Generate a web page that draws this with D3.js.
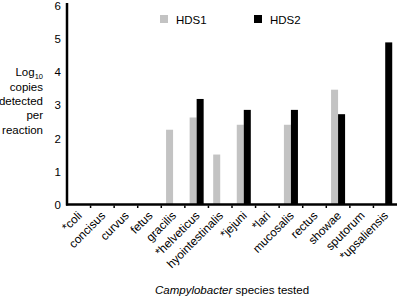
<!DOCTYPE html>
<html>
<head>
<meta charset="utf-8">
<style>
  body { margin: 0; background: #fff; }
  text { font-family: "Liberation Sans", Arial, sans-serif; fill: #000; }
</style>
</head>
<body>
<div id="chart"></div>
<script src="https://d3js.org/d3.v7.min.js"></script>
<script>
var species = ["*coli", "concisus", "curvus", "fetus", "gracilis", "*helveticus",
  "hyointestinalis", "*jejuni", "*lari", "mucosalis", "rectus", "showae",
  "sputorum", "*upsaliensis"];
var seriesNames = ["HDS1", "HDS2"];
var hds1 = [0, 0, 0, 0, 2.26, 2.63, 1.51, 2.41, 0, 2.41, 0, 3.47, 0, 0];
var hds2 = [0, 0, 0, 0, 0, 3.19, 0, 2.86, 0, 2.86, 0, 2.73, 0, 4.9];
var yTicks = [0, 1, 2, 3, 4, 5, 6];
var colors = ["#c3c3c3", "#000000"];

var W = 400, H = 299;
var margin = {left: 67, right: 3, top: 6, bottom: 94};

var svg = d3.select("#chart").append("svg")
  .attr("width", W).attr("height", H);

var x = d3.scaleBand().domain(species).range([margin.left, W - margin.right]).padding(0);
var x1 = d3.scaleBand().domain(seriesNames).range([0, x.bandwidth()]).paddingOuter(0.68).paddingInner(0);
var y = d3.scaleLinear().domain([0, 6]).range([H - margin.bottom - 0.5, margin.top]);

var rows = species.map(function(s, i) { return {name: s, vals: [hds1[i], hds2[i]]}; });

// bars
var grp = svg.append("g").selectAll("g").data(rows).enter().append("g")
  .attr("transform", function(d) { return "translate(" + x(d.name) + ",0)"; });
grp.selectAll("rect")
  .data(function(d) { return d.vals.map(function(v, j) { return {k: seriesNames[j], v: v, j: j}; }).filter(function(e) { return e.v > 0; }); })
  .enter().append("rect")
  .attr("x", function(d) { return x1(d.k); })
  .attr("width", x1.bandwidth())
  .attr("y", function(d) { return y(d.v); })
  .attr("height", function(d) { return y(0) - y(d.v); })
  .attr("fill", function(d) { return colors[d.j]; });

// y axis (no tick marks)
var yAxis = svg.append("g").attr("transform", "translate(" + margin.left + ",0)")
  .call(d3.axisLeft(y).tickValues(yTicks).tickFormat(d3.format("d")).tickSize(0).tickPadding(6));
yAxis.select(".domain").attr("stroke-width", 2.5).attr("d", "M0," + (y(0) + 1) + "V" + (margin.top - 3));
yAxis.selectAll(".tick text").attr("font-size", 11.5).style("font-family", "Liberation Sans, Arial, sans-serif");

// x axis
var xAxis = svg.append("g").attr("transform", "translate(0," + y(0) + ")")
  .call(d3.axisBottom(x).tickSize(0).tickPadding(4));
xAxis.select(".domain").attr("stroke-width", 2.5).attr("d", "M" + (margin.left - 1) + ",0H" + (W - margin.right));
xAxis.selectAll(".tick text")
  .attr("font-size", 11.8)
  .style("font-family", "Liberation Sans, Arial, sans-serif")
  .attr("text-anchor", "end")
  .attr("dy", null)
  .attr("transform", "translate(1,9) rotate(-45)");
// boundary ticks
xAxis.append("g").selectAll("line").data(species.slice(1)).enter().append("line")
  .attr("x1", function(d) { return x(d); }).attr("x2", function(d) { return x(d); })
  .attr("y1", 1).attr("y2", 3.5).attr("stroke", "#000").attr("stroke-width", 1.5);

// y title
var yt = svg.append("text").attr("text-anchor", "end").attr("font-size", 11.5);
var t0 = yt.append("tspan").attr("x", 43).attr("y", 76).text("Log");
t0.append("tspan").attr("font-size", 7.5).attr("dy", 3).text("10");
["copies", "detected", "per", "reaction"].forEach(function(s, i) {
  yt.append("tspan").attr("x", 43).attr("y", 91 + i * 14.2).text(s);
});

// x title
var xt = svg.append("text").attr("x", 232).attr("y", 294).attr("text-anchor", "middle").attr("font-size", 11.5);
xt.append("tspan").attr("font-style", "italic").text("Campylobacter");
xt.append("tspan").text(" species tested");

// legend
var legX = [160, 254];
seriesNames.forEach(function(s, i) {
  svg.append("rect").attr("x", legX[i]).attr("y", 15).attr("width", 8).attr("height", 8).attr("fill", colors[i]);
  svg.append("text").attr("x", legX[i] + 16).attr("y", 23.5).attr("font-size", 11.5).text(s);
});
</script>
</body>
</html>
